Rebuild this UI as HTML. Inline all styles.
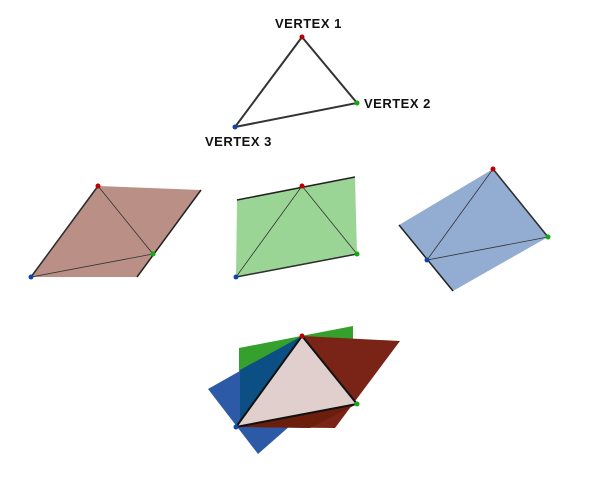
<!DOCTYPE html>
<html><head><meta charset="utf-8"><style>body{margin:0;background:#fff}svg{display:block}text{font-family:"Liberation Sans",sans-serif;font-weight:bold;font-size:13px;fill:#111;letter-spacing:0.5px}</style></head>
<body>
<svg width="600" height="500" viewBox="0 0 600 500">
<g>
<polygon points="302,37 357,103 235,127" fill="none" stroke="#333" stroke-width="2"/>
<circle cx="302" cy="37" r="2.5" fill="#b00"/><circle cx="357" cy="103" r="2.5" fill="#1a1"/><circle cx="235" cy="127" r="2.5" fill="#14a"/>
<text x="275" y="28">VERTEX 1</text>
<text x="364" y="108">VERTEX 2</text>
<text x="205" y="146">VERTEX 3</text>
</g>
<g>
<polygon points="98,186 201,190 137,277 31,277" fill="#b98f86"/>
<line x1="98" y1="186" x2="31" y2="277" stroke="#222" stroke-width="1.5"/>
<line x1="201" y1="190" x2="137" y2="277" stroke="#222" stroke-width="1.5"/>
<polygon points="98,186 153,254 31,277" fill="none" stroke="#333" stroke-width="0.8"/>
<circle cx="98" cy="186" r="2.5" fill="#b00"/><circle cx="153" cy="254" r="2.5" fill="#1a1"/><circle cx="31" cy="277" r="2.5" fill="#14a"/>
</g>
<g>
<polygon points="237,200 355,177 357,254 236,277" fill="#9bd595"/>
<line x1="237" y1="200" x2="355" y2="177" stroke="#222" stroke-width="1.5"/>
<line x1="236" y1="277" x2="357" y2="254" stroke="#222" stroke-width="1.5"/>
<polygon points="302,186 357,254 236,277" fill="none" stroke="#333" stroke-width="0.8"/>
<circle cx="302" cy="186" r="2.5" fill="#b00"/><circle cx="357" cy="254" r="2.5" fill="#1a1"/><circle cx="236" cy="277" r="2.5" fill="#14a"/>
</g>
<g>
<polygon points="399,225 493,169 548,237 453,291" fill="#93acd2"/>
<line x1="493" y1="169" x2="548" y2="237" stroke="#222" stroke-width="1.5"/>
<line x1="399" y1="225" x2="453" y2="291" stroke="#222" stroke-width="1.5"/>
<polygon points="493,169 548,237 427,260" fill="none" stroke="#333" stroke-width="0.8"/>
<circle cx="493" cy="169" r="2.5" fill="#b00"/><circle cx="548" cy="237" r="2.5" fill="#1a1"/><circle cx="427" cy="260" r="2.5" fill="#14a"/>
</g>
<g>
<polygon points="239,348 353,326 353,404 239,427" fill="#35a02c"/>
<polygon points="302,336 400,341 335,428 236,427" fill="#7a2417"/>
<polygon points="208,389 302,336 340,382 258,454" fill="#2d5aa6"/>
<polygon points="302,336 240,427 240,370" fill="#0b4f84"/>
<polygon points="302,336 357,404 340,382" fill="#6b1e0b"/>
<polygon points="236,427 357,404 310,428" fill="#6b1e0b"/>
<polygon points="302,336 357,404 236,427" fill="#e0cfcc" stroke="#111" stroke-width="2"/>
<circle cx="302" cy="336" r="2.5" fill="#b00"/><circle cx="357" cy="404" r="2.5" fill="#1a1"/><circle cx="236" cy="427" r="2.5" fill="#14a"/>
</g>
</svg>
</body></html>
